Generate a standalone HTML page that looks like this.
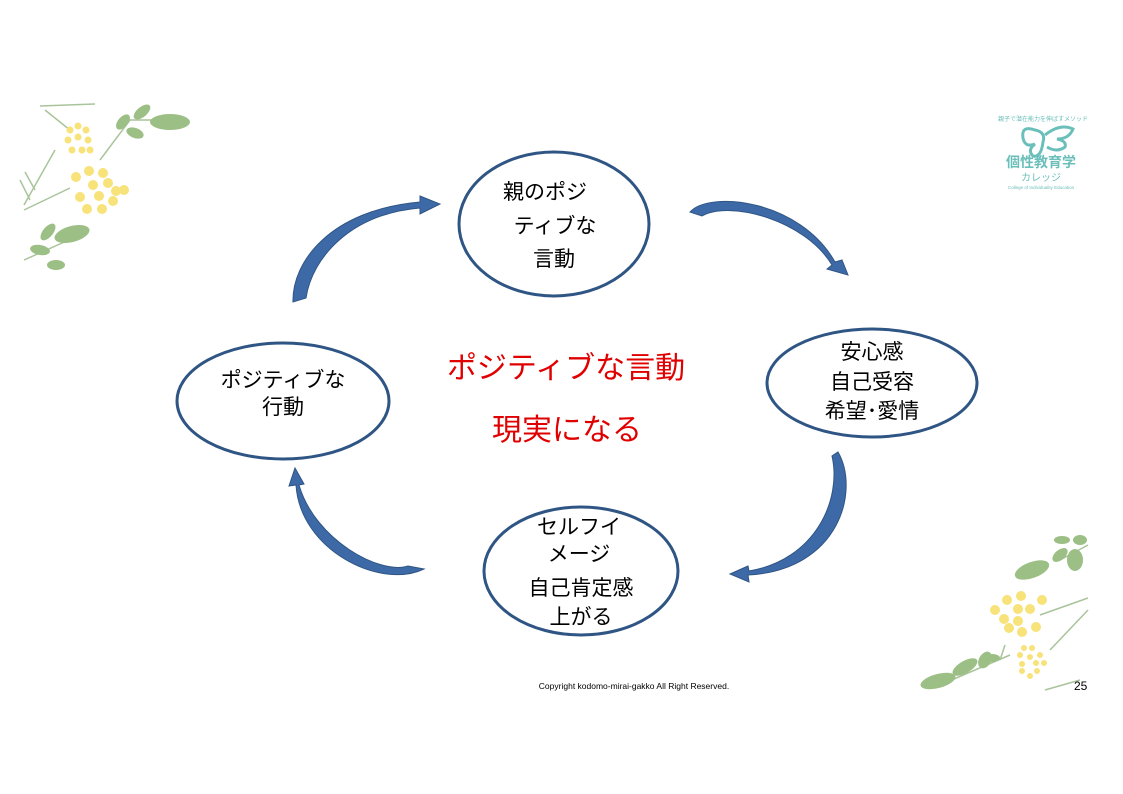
<!DOCTYPE html>
<html><head><meta charset="utf-8"><style>
html,body{margin:0;padding:0;background:#fff;}
svg{display:block}
text{font-family:"Liberation Sans","Noto Sans CJK JP",sans-serif;}
</style></head><body>
<svg width="1123" height="794" viewBox="0 0 1123 794" xmlns="http://www.w3.org/2000/svg">
<!-- top-left decoration -->
<g>
 <g stroke="#a9c49a" stroke-width="1.5" fill="none">
  <path d="M40 106 L95 104"/><path d="M45 110 L70 130"/>
  <path d="M24 205 L55 150"/><path d="M24 210 L70 188"/>
  <path d="M30 200 L20 180"/><path d="M35 190 L25 172"/>
  <path d="M100 160 L130 120 L170 120"/>
  <path d="M24 260 L80 235"/>
 </g>
 <g fill="#9bbf84">
  <ellipse cx="170" cy="122" rx="20" ry="8"/>
  <ellipse cx="142" cy="112" rx="10" ry="5" transform="rotate(-40 142 112)"/>
  <ellipse cx="135" cy="133" rx="9" ry="5" transform="rotate(20 135 133)"/>
  <ellipse cx="123" cy="122" rx="9" ry="5" transform="rotate(-50 123 122)"/>
  <ellipse cx="72" cy="234" rx="18" ry="8" transform="rotate(-15 72 234)"/>
  <ellipse cx="48" cy="232" rx="10" ry="5" transform="rotate(-50 48 232)"/>
  <ellipse cx="40" cy="250" rx="10" ry="5" transform="rotate(10 40 250)"/>
  <ellipse cx="56" cy="265" rx="9" ry="5"/>
 </g>
 <g fill="#f8e27a">
  <circle cx="70" cy="130" r="3.5"/><circle cx="78" cy="126" r="3.5"/><circle cx="86" cy="130" r="3.5"/>
  <circle cx="68" cy="140" r="3.5"/><circle cx="78" cy="137" r="3.5"/><circle cx="88" cy="140" r="3.5"/>
  <circle cx="72" cy="150" r="3.5"/><circle cx="82" cy="150" r="3.5"/><circle cx="90" cy="150" r="3.5"/>
  <circle cx="89" cy="171" r="5"/><circle cx="103" cy="173" r="5"/><circle cx="76" cy="177" r="5"/>
  <circle cx="93" cy="185" r="5"/><circle cx="108" cy="183" r="5"/><circle cx="116" cy="191" r="5"/><circle cx="124" cy="190" r="5"/>
  <circle cx="80" cy="197" r="5"/><circle cx="99" cy="196" r="5"/><circle cx="113" cy="201" r="5"/>
  <circle cx="87" cy="209" r="5"/><circle cx="102" cy="209" r="5"/>
 </g>
</g>
<!-- bottom-right decoration -->
<g>
 <g stroke="#a9c49a" stroke-width="1.5" fill="none">
  <path d="M1040 615 L1088 598"/><path d="M1050 650 L1088 610"/><path d="M1045 690 L1080 680"/>
  <path d="M1060 560 L1088 545"/><path d="M1010 655 L940 685"/><path d="M1005 645 L1000 660"/>
 </g>
 <g fill="#9bbf84">
  <ellipse cx="1032" cy="570" rx="18" ry="8" transform="rotate(-20 1032 570)"/>
  <ellipse cx="1060" cy="555" rx="9" ry="5" transform="rotate(-40 1060 555)"/>
  <ellipse cx="1075" cy="560" rx="8" ry="11"/>
  <ellipse cx="1062" cy="540" rx="8" ry="4"/>
  <ellipse cx="1080" cy="540" rx="7" ry="5"/>
  <ellipse cx="938" cy="681" rx="18" ry="7" transform="rotate(-15 938 681)"/>
  <ellipse cx="965" cy="667" rx="14" ry="6" transform="rotate(-30 965 667)"/>
  <ellipse cx="985" cy="660" rx="9" ry="6" transform="rotate(-60 985 660)"/>
  <ellipse cx="992" cy="658" rx="8" ry="4"/>
 </g>
 <g fill="#f8e27a">
  <circle cx="1007" cy="600" r="5"/><circle cx="1021" cy="596" r="5"/><circle cx="1042" cy="600" r="5"/>
  <circle cx="995" cy="610" r="5"/><circle cx="1018" cy="609" r="5"/><circle cx="1030" cy="609" r="5"/>
  <circle cx="1004" cy="619" r="5"/><circle cx="1018" cy="621" r="5"/><circle cx="1036" cy="627" r="5"/>
  <circle cx="1009" cy="628" r="5"/><circle cx="1022" cy="632" r="5"/>
  <circle cx="1024" cy="648" r="3"/><circle cx="1032" cy="648" r="3"/>
  <circle cx="1020" cy="655" r="3"/><circle cx="1030" cy="657" r="3"/><circle cx="1040" cy="655" r="3"/>
  <circle cx="1022" cy="664" r="3"/><circle cx="1036" cy="663" r="3"/><circle cx="1044" cy="663" r="3"/>
  <circle cx="1022" cy="671" r="3"/><circle cx="1037" cy="671" r="3"/><circle cx="1030" cy="676" r="3"/>
 </g>
</g>
<!-- logo -->
<g fill="none" stroke="#6bbfba" stroke-width="3">
 <path d="M1035 130 q-14 -5 -12 8 q2 10 12 6 q-8 6 -2 12 q8 2 10 -14 q3 -10 -8 -12z"/>
 <path d="M1045 135 q15 -12 28 -6 q-4 10 -16 10 q10 2 8 8 q-8 6 -18 0"/>
</g>
<text x="1043" y="121" font-size="6" fill="#6bbfba" text-anchor="middle">親子で潜在能力を伸ばすメソッド</text>
<text x="1041" y="167" font-size="14" fill="#6bbfba" text-anchor="middle" font-weight="bold">個性教育学</text>
<text x="1041" y="181" font-size="10" fill="#6bbfba" text-anchor="middle">カレッジ</text>
<text x="1041" y="189" font-size="4.5" fill="#6bbfba" text-anchor="middle">College of Individuality Education</text>

<!-- ellipses -->
<g fill="#fff" stroke="#2f5584" stroke-width="3">
 <ellipse cx="554" cy="224" rx="95" ry="72"/>
 <ellipse cx="283" cy="401" rx="106" ry="58"/>
 <ellipse cx="872" cy="383" rx="105" ry="54"/>
 <ellipse cx="581" cy="571" rx="97" ry="64"/>
</g>
<!-- arrows -->
<g fill="#3d6aa6" stroke="#2f5584" stroke-width="1">
 <path d="M293 302 C292 262 330 210 420 202 L420 196 L440 204 L420 214 L420 208 C350 214 312 258 306 298 Z"/>
 <path d="M690 212 C710 190 800 200 835 262 L842 260 L848 275 L827 269 L832 265 C805 220 730 200 702 216 Z"/>
 <path d="M838 452 C860 490 840 570 748 575 L749 582 L730 574 L748 566 L749 571 C815 560 842 500 832 456 Z"/>
 <path d="M424 569 C380 590 300 550 296 485 L289 486 L295 468 L304 484 L299 485 C315 540 380 575 408 566 Z"/>
</g>
<!-- labels -->
<g font-size="21" fill="#000" text-anchor="middle">
 <text x="545" y="199">親のポジ</text>
 <text x="555" y="233">ティブな</text>
 <text x="554" y="266">言動</text>
 <text x="283" y="387">ポジティブな</text>
 <text x="283" y="414">行動</text>
 <text x="872" y="359">安心感</text>
 <text x="872" y="389">自己受容</text>
 <text x="872" y="418">希望･愛情</text>
 <text x="579" y="534">セルフイ</text>
 <text x="579" y="561">メージ</text>
 <text x="581" y="595">自己肯定感</text>
 <text x="581" y="624">上がる</text>
</g>
<g font-size="30" fill="#e00000" text-anchor="middle">
 <text x="566" y="378">ポジティブな言動</text>
 <text x="567" y="440">現実になる</text>
</g>
<text x="634" y="689" font-size="8.5" fill="#000" text-anchor="middle">Copyright kodomo-mirai-gakko All  Right Reserved.</text>
<text x="1074" y="690" font-size="12" fill="#000">25</text>
</svg>
</body></html>
